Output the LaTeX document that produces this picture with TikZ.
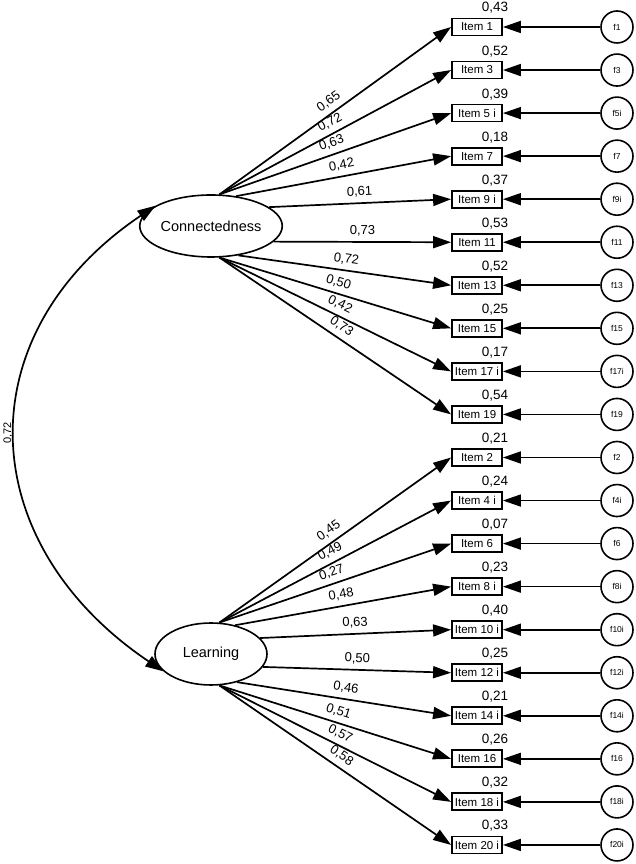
\documentclass[tikz,border=0pt]{standalone}
\usepackage{fontspec}
\setmainfont{Liberation Sans}
\usetikzlibrary{arrows.meta,shapes.geometric}
\begin{document}
\begin{tikzpicture}[x=1pt,y=1pt,
  lat/.style={ellipse, draw, line width=1.6pt, minimum width=112pt, minimum height=62pt, inner sep=0pt, font=\fontsize{14.5}{17}\selectfont},
  obs/.style={rectangle, draw, line width=1.8pt, minimum width=50pt, minimum height=17pt, inner sep=0pt, font=\fontsize{11.5}{13}\selectfont},
  err/.style={circle, draw, line width=1.6pt, minimum size=32pt, inner sep=0pt, font=\fontsize{8.5}{10}\selectfont},
  val/.style={font=\fontsize{13.5}{16}\selectfont, inner sep=0pt, anchor=base},
  lbl/.style={font=\fontsize{13}{16}\selectfont, sloped, above=5pt, inner sep=0pt, pos=0.5},
  arr/.style={line width=1.7pt, -{Triangle[length=18pt,width=12pt]}},
]
\useasboundingbox (0,0) rectangle (635,864);
\node[lat] (conn) at (211,638) {Connectedness};
\node[lat] (learn) at (211,210) {Learning};

\foreach \i/\nm/\en/\v in {0/{Item 1}/f1/{0,43}, 1/{Item 3}/f3/{0,52}, 2/{Item 5 i}/f5i/{0,39},
  3/{Item 7}/f7/{0,18}, 4/{Item 9 i}/f9i/{0,37}, 5/{Item 11}/f11/{0,53}, 6/{Item 13}/f13/{0,52},
  7/{Item 15}/f15/{0,25}, 8/{Item 17 i}/f17i/{0,17}, 9/{Item 19}/f19/{0,54}, 10/{Item 2}/f2/{0,21},
  11/{Item 4 i}/f4i/{0,24}, 12/{Item 6}/f6/{0,07}, 13/{Item 8 i}/f8i/{0,23}, 14/{Item 10 i}/f10i/{0,40},
  15/{Item 12 i}/f12i/{0,25}, 16/{Item 14 i}/f14i/{0,21}, 17/{Item 16}/f16/{0,26}, 18/{Item 18 i}/f18i/{0,32},
  19/{Item 20 i}/f20i/{0,33}} {
  \pgfmathsetmacro\yy{864-27-43.05*\i}
  \node[obs] (it\i) at (477,\yy) {\nm};
  \node[err] (er\i) at (617,\yy) {\en};
  \node[val] (va\i) at ([xshift=18pt,yshift=15pt]it\i.center) {\v};
  \draw[arr] (er\i) -- (it\i);
}

\foreach \i/\a/\v in {0/75/{0,65}, 1/75/{0,72}, 2/75/{0,63}, 3/50/{0,42}, 4/18/{0,61},
  5/-14/{0,73}, 6/-47/{0,72}, 7/-75/{0,50}, 8/-75/{0,42}, 9/-75/{0,73}} {
  \draw[arr] (conn.\a) -- node[lbl] {\v} (it\i.west);
}
\foreach \i/\a/\v in {10/75/{0,45}, 11/75/{0,49}, 12/75/{0,27}, 13/50/{0,48}, 14/18/{0,63},
  15/-14/{0,50}, 16/-47/{0,46}, 17/-75/{0,51}, 18/-75/{0,57}, 19/-75/{0,58}} {
  \draw[arr] (learn.\a) -- node[lbl] {\v} (it\i.west);
}

\draw[line width=1.7pt, {Triangle[length=18pt,width=12pt]}-{Triangle[length=18pt,width=12pt]}]
  (conn.160) to[out=214, in=146, distance=230pt] (learn.200);
\node[rotate=90, inner sep=0pt, font=\fontsize{11}{13}\selectfont] (cov) at (8,431) {0,72};
\end{tikzpicture}
\end{document}
